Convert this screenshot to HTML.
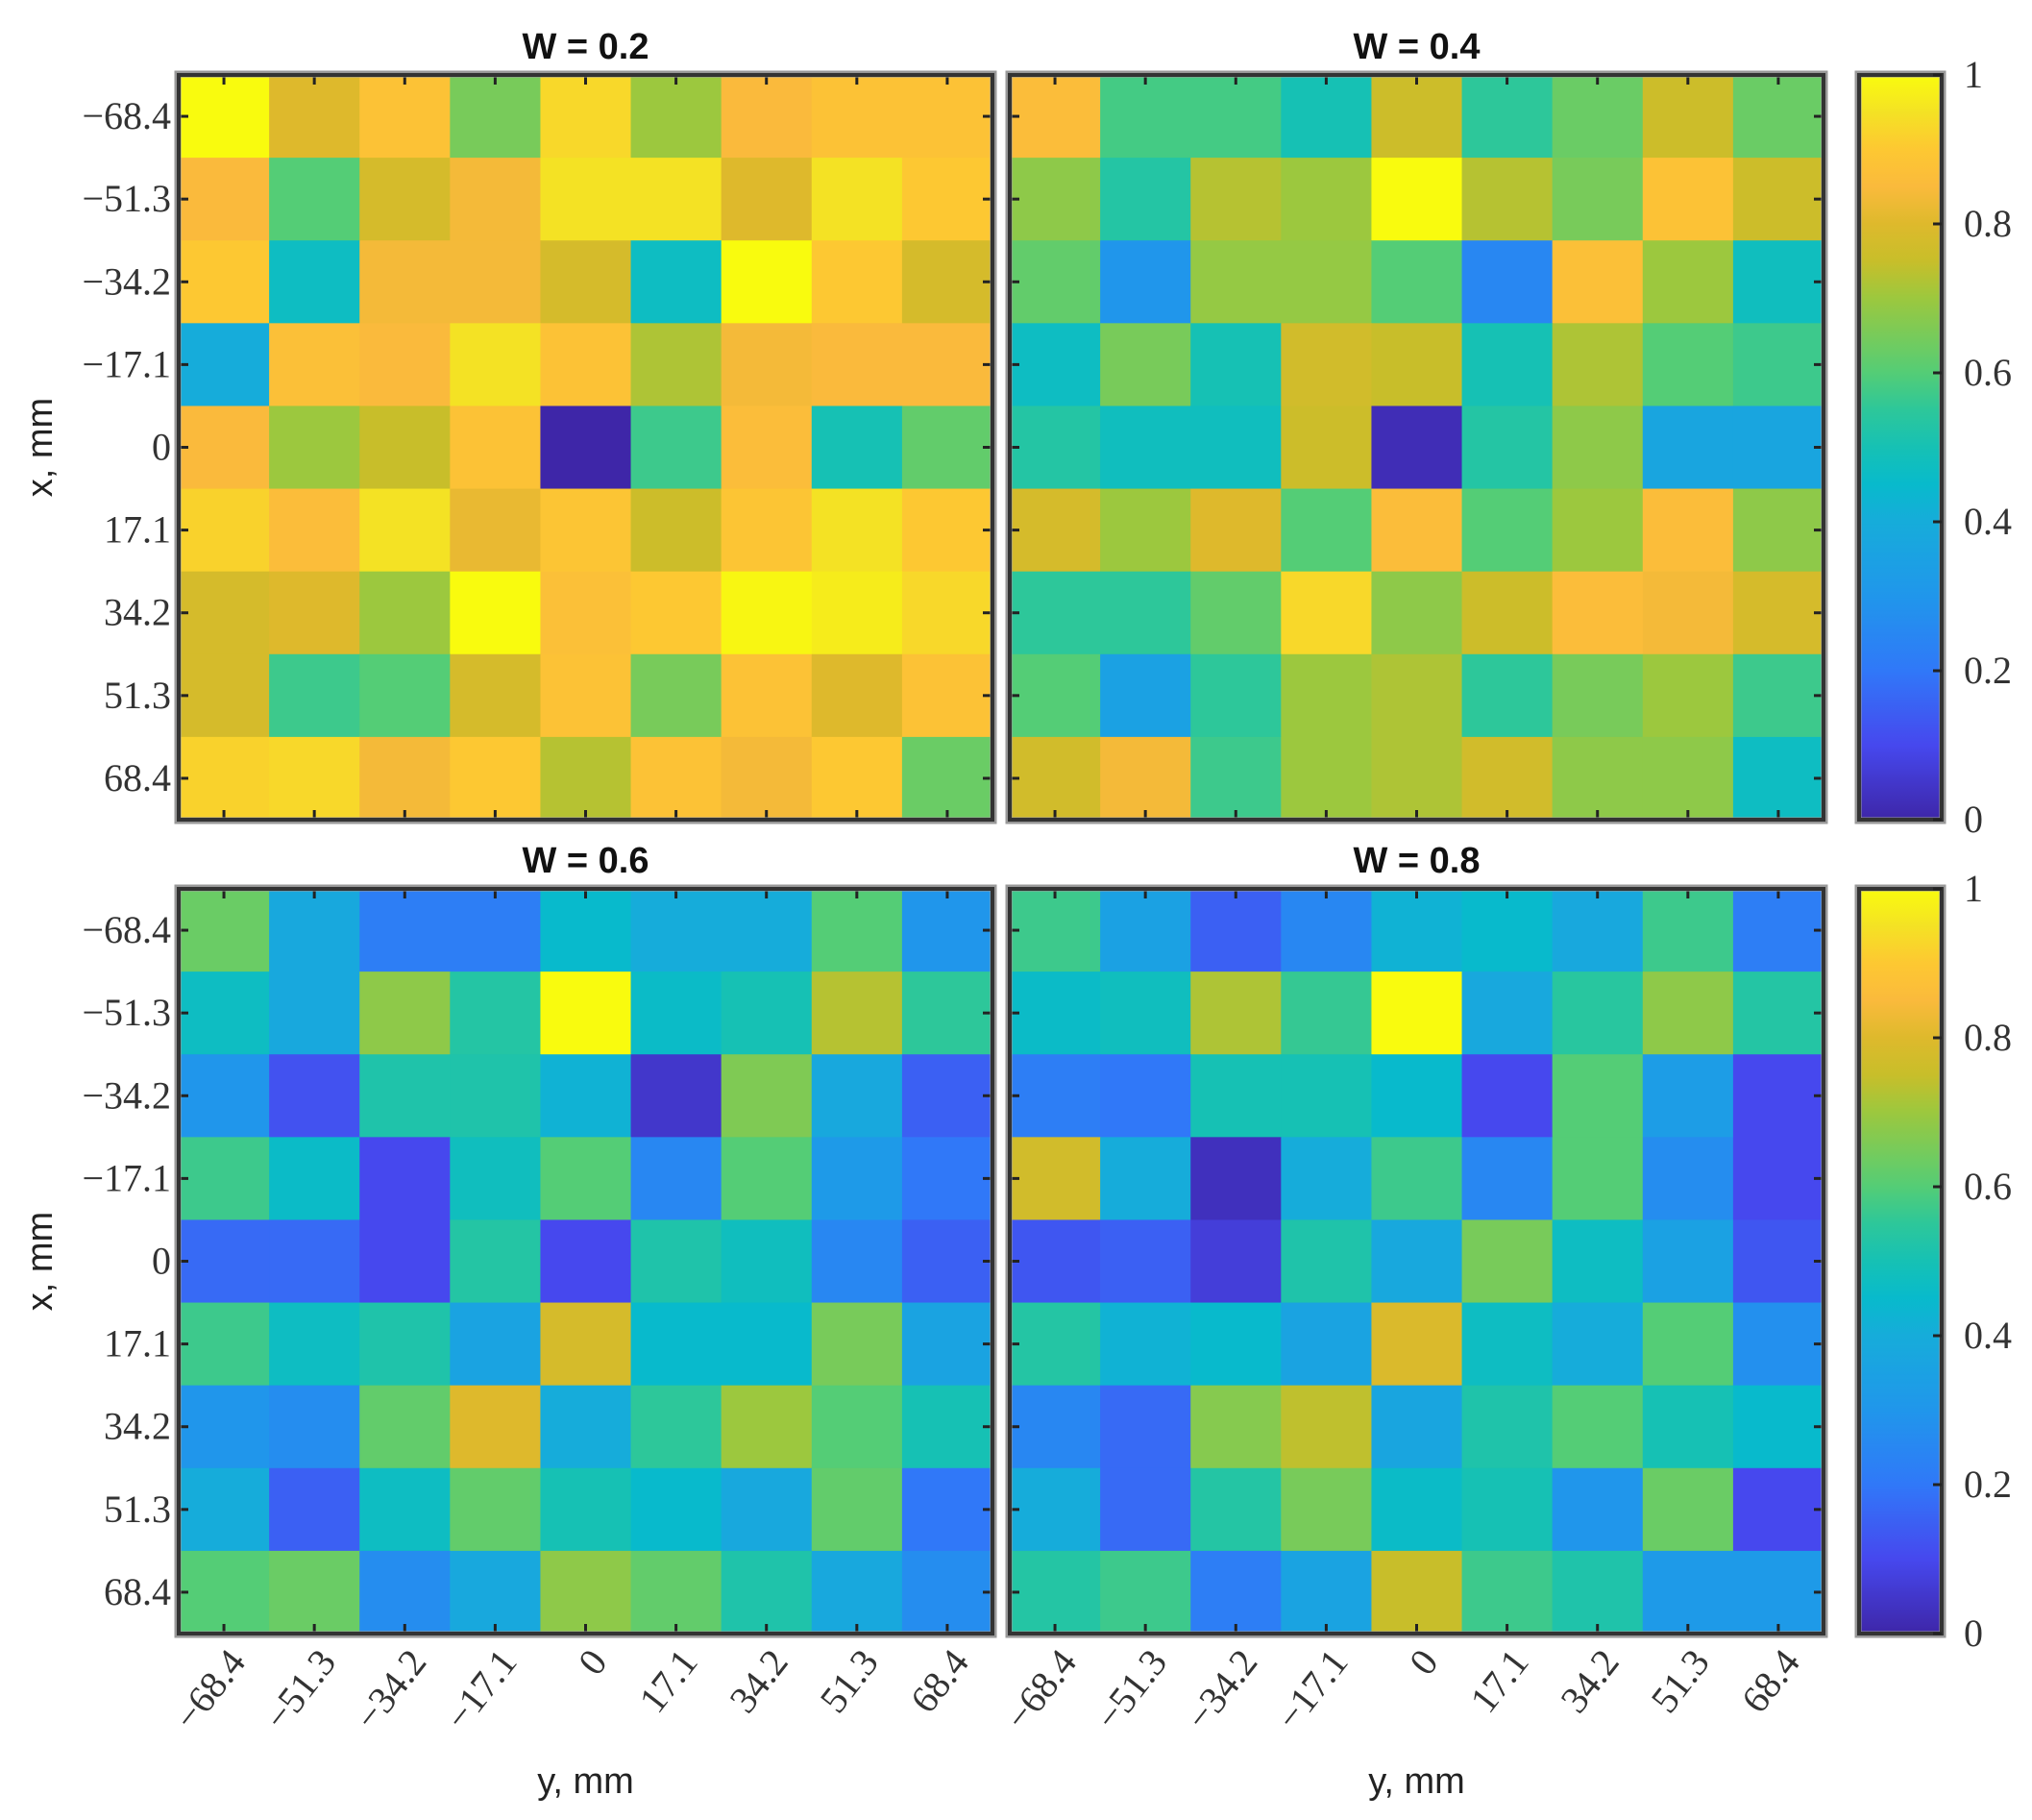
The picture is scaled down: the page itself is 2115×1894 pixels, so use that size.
<!DOCTYPE html>
<html><head><meta charset="utf-8"><style>
html,body{margin:0;padding:0;background:#fff;}
svg{display:block;}
</style></head><body>
<svg id="fig" xmlns="http://www.w3.org/2000/svg" width="2115" height="1894" viewBox="0 0 2115 1894">
<defs>
<linearGradient id="cbgrad" x1="0" y1="1" x2="0" y2="0"></linearGradient>
</defs>
</svg>
<script>
const tickLabels = ["\u221268.4","\u221251.3","\u221234.2","\u221217.1","0","17.1","34.2","51.3","68.4"];
const cbTicks = [0,0.2,0.4,0.6,0.8,1];
const cbTickLabels = ["0","0.2","0.4","0.6","0.8","1"];
const panelTitles = ["W = 0.2","W = 0.4","W = 0.6","W = 0.8"];
const valuesW02 = [
[1.0,0.8,0.88,0.65,0.93,0.7,0.85,0.88,0.88],
[0.85,0.6,0.78,0.84,0.95,0.95,0.8,0.95,0.9],
[0.9,0.47,0.84,0.84,0.78,0.47,1.0,0.9,0.78],
[0.4,0.87,0.85,0.95,0.88,0.72,0.84,0.85,0.85],
[0.85,0.7,0.75,0.88,0.0,0.57,0.86,0.5,0.62],
[0.92,0.86,0.95,0.82,0.89,0.76,0.89,0.95,0.9],
[0.78,0.8,0.7,1.0,0.87,0.9,0.99,0.97,0.93],
[0.78,0.57,0.6,0.78,0.88,0.65,0.88,0.8,0.88],
[0.92,0.93,0.84,0.9,0.73,0.88,0.84,0.9,0.63]];
const valuesW04 = [
[0.86,0.58,0.58,0.5,0.76,0.55,0.63,0.76,0.63],
[0.68,0.53,0.73,0.7,1.0,0.73,0.65,0.88,0.76],
[0.62,0.3,0.69,0.69,0.6,0.25,0.87,0.7,0.48],
[0.47,0.65,0.5,0.77,0.75,0.5,0.72,0.6,0.57],
[0.53,0.48,0.48,0.76,0.02,0.53,0.68,0.37,0.37],
[0.78,0.7,0.8,0.6,0.86,0.6,0.7,0.86,0.68],
[0.55,0.55,0.62,0.93,0.68,0.76,0.86,0.84,0.78],
[0.6,0.35,0.55,0.7,0.72,0.55,0.65,0.7,0.57],
[0.77,0.84,0.57,0.7,0.72,0.77,0.68,0.68,0.47]];
const valuesW06 = [
[0.63,0.38,0.22,0.22,0.45,0.4,0.4,0.6,0.3],
[0.47,0.38,0.68,0.53,1.0,0.46,0.5,0.73,0.55],
[0.3,0.12,0.52,0.52,0.42,0.05,0.66,0.38,0.15],
[0.57,0.46,0.1,0.48,0.6,0.25,0.6,0.32,0.2],
[0.17,0.17,0.1,0.53,0.1,0.52,0.48,0.25,0.15],
[0.57,0.47,0.52,0.36,0.78,0.45,0.45,0.65,0.36],
[0.3,0.27,0.62,0.8,0.4,0.55,0.7,0.6,0.5],
[0.4,0.15,0.47,0.62,0.5,0.45,0.38,0.62,0.2],
[0.6,0.63,0.27,0.38,0.68,0.62,0.52,0.38,0.27]];
const valuesW08 = [
[0.57,0.35,0.15,0.25,0.42,0.45,0.38,0.57,0.22],
[0.46,0.48,0.72,0.56,1.0,0.38,0.54,0.68,0.53],
[0.22,0.2,0.5,0.5,0.45,0.1,0.6,0.33,0.1],
[0.77,0.4,0.03,0.4,0.57,0.25,0.6,0.27,0.1],
[0.13,0.15,0.07,0.52,0.38,0.65,0.47,0.35,0.13],
[0.53,0.42,0.45,0.36,0.79,0.47,0.4,0.6,0.28],
[0.25,0.17,0.67,0.74,0.37,0.52,0.6,0.5,0.45],
[0.4,0.17,0.53,0.65,0.46,0.5,0.3,0.63,0.1],
[0.53,0.57,0.22,0.36,0.75,0.57,0.52,0.32,0.32]];

const NS="http://www.w3.org/2000/svg";
const svg=document.getElementById('fig');
const cmap=[[0,[62,38,168]],[0.1,[70,72,238]],[0.2,[48,120,248]],[0.3,[32,150,235]],[0.4,[22,172,218]],[0.45,[8,186,204]],[0.5,[22,193,180]],[0.55,[45,199,154]],[0.6,[84,205,118]],[0.7,[156,200,62]],[0.75,[200,190,42]],[0.8,[222,185,44]],[0.85,[250,186,60]],[0.9,[253,200,50]],[0.95,[244,226,36]],[1,[249,251,14]]];
function color(v){v=Math.max(0,Math.min(1,v));for(let i=1;i<cmap.length;i++){if(v<=cmap[i][0]){const a=cmap[i-1],b=cmap[i];const t=(v-a[0])/(b[0]-a[0]);const c=a[1].map((x,k)=>Math.round(x+(b[1][k]-x)*t));return `rgb(${c[0]},${c[1]},${c[2]})`;}}return 'rgb(249,251,14)';}
function el(tag,attrs,parent){const e=document.createElementNS(NS,tag);for(const k in attrs)e.setAttribute(k,attrs[k]);(parent||svg).appendChild(e);return e;}
const grad=document.getElementById('cbgrad');
for(let i=0;i<=40;i++){const s=document.createElementNS(NS,'stop');s.setAttribute('offset',(i/40));s.setAttribute('stop-color',color(i/40));grad.appendChild(s);}

const cols=[186,1051], colW=847;
const rows=[78,925], rowH=775;
const all=[valuesW02,valuesW04,valuesW06,valuesW08];
const serif='"Liberation Serif", serif', sans='"Liberation Sans", sans-serif';
for(let p=0;p<4;p++){
  const x0=cols[p%2], y0=rows[Math.floor(p/2)];
  const data=all[p]; const n=data.length;
  const cw=colW/n, ch=rowH/n;
  const xs=c=>x0+c*cw, ys=r=>y0+r*ch;
  const g=el('g',{});
  
  
  for(let r=0;r<n;r++)for(let c=0;c<n;c++){
    const rc=el('rect',{x:xs(c),y:ys(r),width:cw+0.6,height:ch+0.6,fill:color(data[r][c])},g);
    
    
  }
  for(let i=0;i<n;i++){
    const cx=xs(i)+cw/2, cy=ys(i)+ch/2;
    el('line',{x1:cx,y1:y0,x2:cx,y2:y0+10,stroke:'#222','stroke-width':3},g);
    el('line',{x1:cx,y1:y0+rowH,x2:cx,y2:y0+rowH-10,stroke:'#222','stroke-width':3},g);
    el('line',{x1:x0,y1:cy,x2:x0+10,y2:cy,stroke:'#222','stroke-width':3},g);
    el('line',{x1:x0+colW,y1:cy,x2:x0+colW-10,y2:cy,stroke:'#222','stroke-width':3},g);
  }
  el('rect',{x:x0-1,y:y0-1,width:colW+2,height:rowH+2,fill:'none',stroke:'#999','stroke-width':7},g);
  el('rect',{x:x0,y:y0,width:colW,height:rowH,fill:'none',stroke:'#333','stroke-width':4},g);
  const t=el('text',{x:x0+colW/2,y:y0-17,'text-anchor':'middle','font-family':sans,'font-weight':'bold','font-size':38,fill:'#111'});
  t.textContent=panelTitles[p];
  
  
  if(p%2===0){
    for(let r=0;r<n;r++){
      const tl=el('text',{x:x0-8,y:ys(r)+ch/2+13,'text-anchor':'end','font-family':serif,'font-size':40,fill:'#333'});
      tl.textContent=tickLabels[r];
      
      
    }
    const yl=el('text',{x:0,y:0,'text-anchor':'middle','font-family':sans,'font-size':38,fill:'#222',transform:`translate(54,${y0+rowH/2}) rotate(-90)`});
    yl.textContent='x, mm';
    
    
  }
  if(p>=2){
    for(let c=0;c<n;c++){
      const ax=xs(c)+cw/2+24, ay=y0+rowH+30;
      const tl=el('text',{x:0,y:0,'text-anchor':'end','font-family':serif,'font-size':40,fill:'#333',transform:`translate(${ax},${ay}) rotate(-52)`});
      tl.textContent=tickLabels[c];
      
      
    }
    const xl=el('text',{x:x0+colW/2,y:1866,'text-anchor':'middle','font-family':sans,'font-size':38,fill:'#222'});
    xl.textContent='y, mm';
    
    
  }
}
for(let k=0;k<2;k++){
  const y0=rows[k], bx=1935, bw=86;
  const g=el('g',{});
  
  
  el('rect',{x:bx,y:y0,width:bw,height:rowH,fill:'url(#cbgrad)'},g);
  el('rect',{x:bx-1,y:y0-1,width:bw+2,height:rowH+2,fill:'none',stroke:'#999','stroke-width':7},g);
  el('rect',{x:bx,y:y0,width:bw,height:rowH,fill:'none',stroke:'#333','stroke-width':4},g);
  for(let i=0;i<cbTicks.length;i++){
    const ty=y0+rowH-cbTicks[i]*rowH;
    el('line',{x1:bx+bw,y1:ty,x2:bx+bw-9,y2:ty,stroke:'#222','stroke-width':3},g);
    const tl=el('text',{x:2044,y:ty+13,'font-family':serif,'font-size':40,fill:'#333'},g);
    tl.textContent=cbTickLabels[i];
    
    
  }
}
</script>
</body></html>
